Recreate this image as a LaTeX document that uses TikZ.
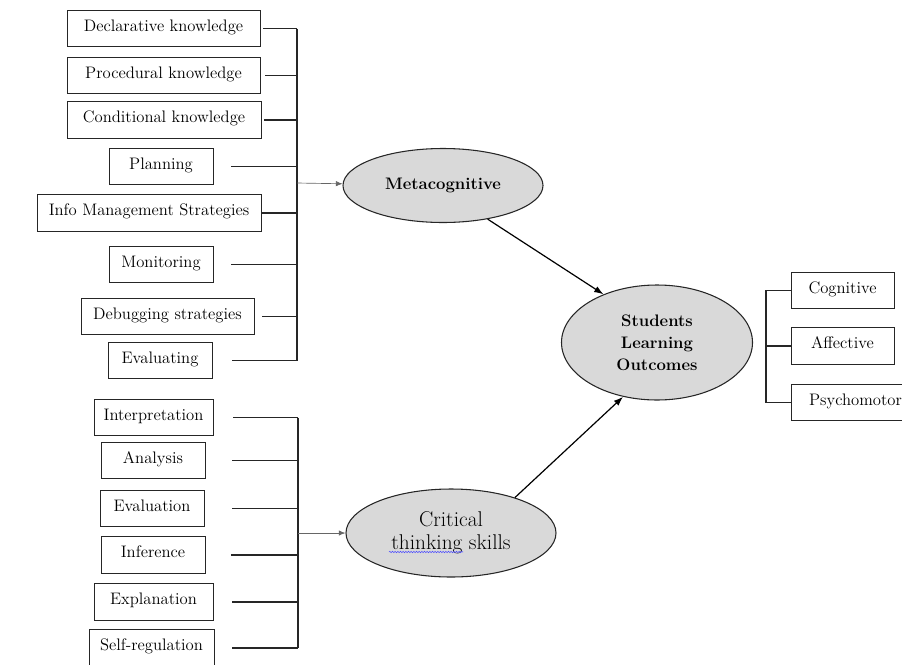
\documentclass[tikz,border=0pt]{standalone}
\usepackage{tikz}
\usetikzlibrary{arrows.meta,positioning,shapes.geometric,calc,decorations.pathmorphing}

\begin{document}
\begin{tikzpicture}[x=0.75pt, y=-0.75pt,
    itembox/.style={draw=black!85, line width=0.7pt, minimum height=27.5pt, inner sep=2pt,
        text height=9pt, text depth=5pt, font=\fontsize{12.5}{15}\selectfont},
    construct/.style={ellipse, draw=black!85, line width=0.8pt, fill=black!15, align=center, inner sep=0pt},
    feed/.style={line width=0.9pt, black!85},
    branch/.style={-{Latex[length=5pt,width=4pt]}, line width=0.5pt, black!60},
    effect/.style={-{Latex[length=7pt,width=5pt]}, line width=0.9pt}]

    \useasboundingbox (0,0) rectangle (902,664);

    % Latent constructs
    \node[construct, minimum width=150pt, minimum height=55.5pt, font=\bfseries\fontsize{12.5}{15}\selectfont]
        (meta) at (443,185.5) {Metacognitive};
    \node[construct, minimum width=157.5pt, minimum height=66pt, font=\fontsize{16}{17.25}\selectfont]
        (crit) at (451,533) {Critical\\thinking skills};
    \node[construct, minimum width=143.25pt, minimum height=86.25pt, font=\bfseries\fontsize{12.5}{16.5}\selectfont]
        (slo) at (657,342.5) {Students\\Learning\\Outcomes};

    % Metacognitive indicators
    \foreach \name/\cx/\cy/\w/\txt in {
        dk/163.5/28.5/144.75pt/Declarative knowledge,
        pk/163.5/75.5/144.75pt/Procedural knowledge,
        ck/164/120/145.5pt/Conditional knowledge,
        pl/161/166.5/78pt/Planning,
        im/149/213/168pt/Info Management Strategies,
        mo/161/264.5/78pt/Monitoring,
        db/167.5/316.5/129.75pt/Debugging strategies,
        ev/160/360.5/78pt/Evaluating} {
        \node[itembox, minimum width=\w] (\name) at (\cx,\cy) {\txt};
    }

    % Critical thinking indicators
    \foreach \name/\cx/\cy/\w/\txt in {
        ip/153.5/417.5/89.25pt/Interpretation,
        an/153/460.5/78pt/Analysis,
        ea/152/508.5/78pt/Evaluation,
        in/153/555/78pt/Inference,
        ex/153.5/602/89.25pt/Explanation,
        sr/151.5/648/93.75pt/Self-regulation} {
        \node[itembox, minimum width=\w] (\name) at (\cx,\cy) {\txt};
    }

    % Outcome indicators
    \node[itembox, minimum width=77.25pt] (cg) at (842.5,290.5) {Cognitive};
    \node[itembox, minimum width=77.25pt] (af) at (842.5,346) {Affective};
    \node[itembox, minimum width=96.75pt] (ps) at (855.5,402.5) {Psychomotor};

    % Bus lines
    \coordinate (mbus) at (297,183);
    \coordinate (cbus) at (298,533);
    \coordinate (obus) at (766,346);

    \foreach \name/\gap in {dk/2pt, pk/3.5pt, ck/2pt, pl/13.5pt, im/0pt, mo/13.5pt, db/6pt, ev/15pt}
        \draw[feed, shorten <=\gap] (\name) -- (\name -| mbus);
    \draw[feed] (dk -| mbus) -- (ev -| mbus);
    \draw[branch] (mbus) -- (meta);

    \foreach \name/\gap in {ip/15pt, an/20pt, ea/21pt, in/19pt, ex/14pt, sr/13.5pt}
        \draw[feed, shorten <=\gap] (\name) -- (\name -| cbus);
    \draw[feed] (ip -| cbus) -- (sr -| cbus);
    \draw[branch] (cbus) -- (crit);

    \draw[feed] (cg.west) -| (obus |- ps) -- (ps.west);
    \draw[feed] (af.west) -- (af -| obus);

    % Structural paths
    \draw[effect] (meta.-37) -- (slo.138);
    \draw[effect] (crit.29) -- (slo.-122);

    % Spell-check squiggle
    \draw[blue!70, line width=0.4pt, decorate, decoration={snake, amplitude=0.5pt, segment length=2pt}]
        ($(crit.center)+(-62,19)$) -- ($(crit.center)+(12,19)$);
\end{tikzpicture}
\end{document}
